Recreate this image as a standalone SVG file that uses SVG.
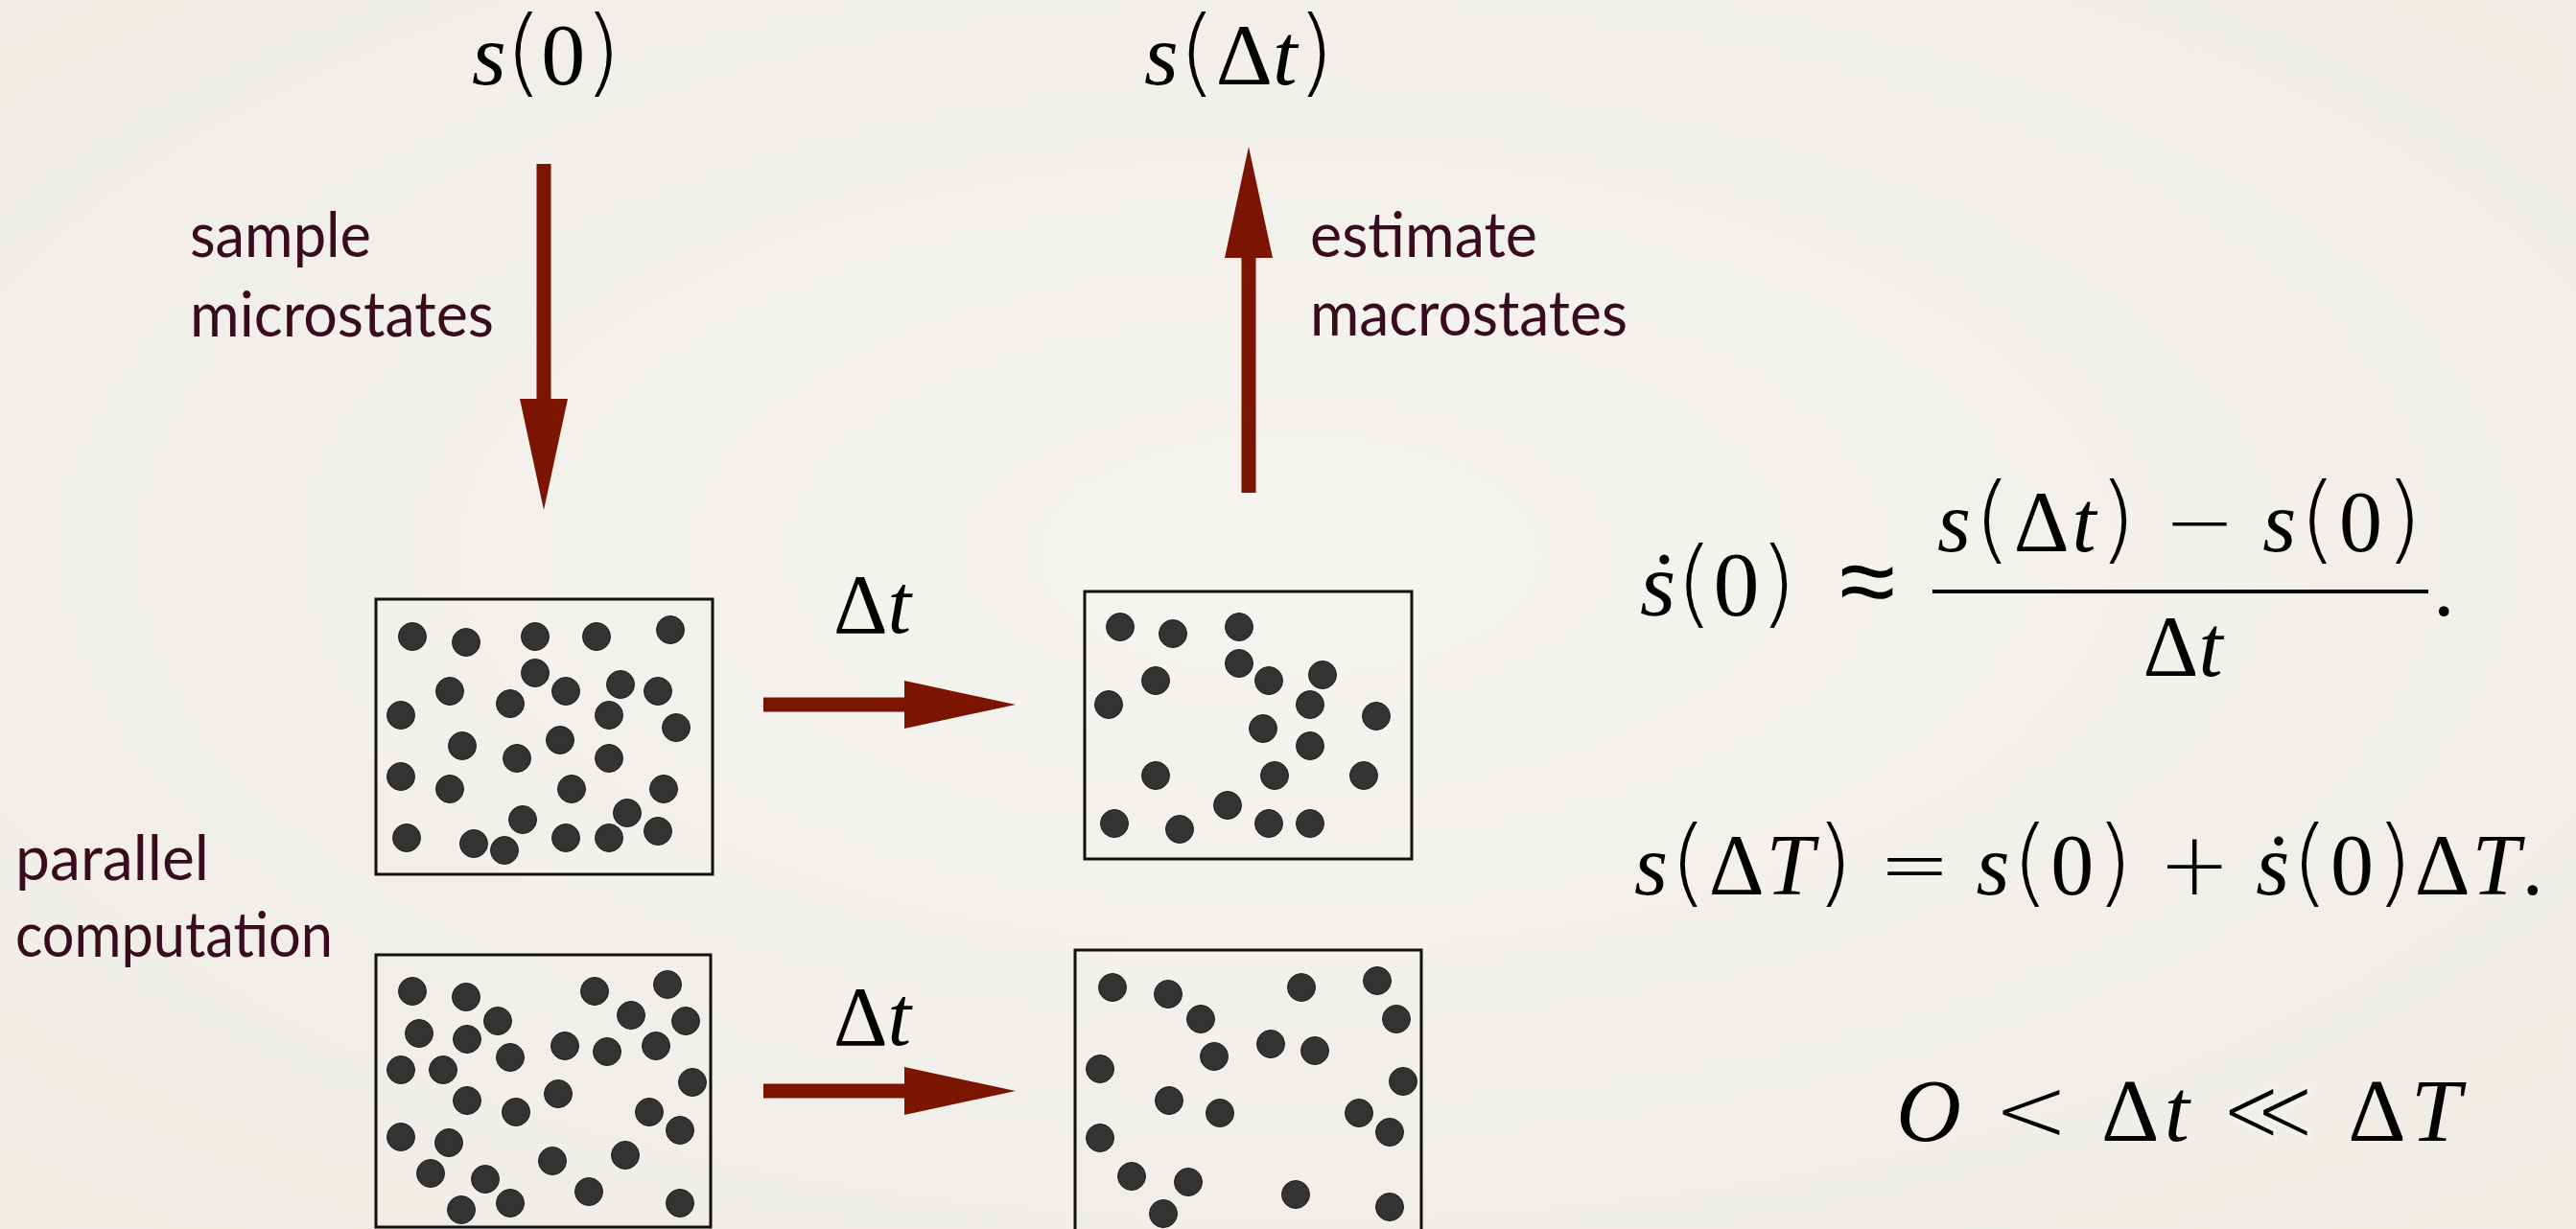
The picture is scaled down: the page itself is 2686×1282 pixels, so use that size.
<svg xmlns="http://www.w3.org/2000/svg" width="2686" height="1282" viewBox="0 0 2686 1282">
<defs>
<radialGradient id="bg" cx="50%" cy="45%" r="75%">
<stop offset="0" stop-color="#f6f4f0"/>
<stop offset="1" stop-color="#efece6"/>
</radialGradient>
<marker id="ah" viewBox="0 0 116 50" markerWidth="116" markerHeight="50" refX="0" refY="25" orient="auto" markerUnits="userSpaceOnUse">
<path d="M0,0 L116,25 L0,50 Z" fill="#7b1400"/>
</marker>
<style>
.lbl{font-family:Lato,"Noto Sans",sans-serif;font-size:66px;fill:#3a0b1f}
.m{font-family:"Liberation Serif","DejaVu Serif",serif;fill:#000}
.i{font-style:italic}
.op{font-family:"DejaVu Sans",sans-serif;font-weight:200}
.thin{stroke:#f3f1ec;stroke-width:4px}
.pr{font-family:"DejaVu Sans",sans-serif;font-weight:200;font-size:100px}
.box{fill:none;stroke:#111;stroke-width:3}
.d{fill:#333;stroke:#1e1e1e;stroke-width:1}
.arr{stroke:#7b1400;stroke-width:15;fill:none;marker-end:url(#ah)}
</style>
</defs>
<rect width="2686" height="1282" fill="url(#bg)"/>

<g id="label-s0"><text class="m" x="492" y="88" font-size="92" textLength="156" lengthAdjust="spacing"><tspan class="i">s</tspan><tspan class="pr">(</tspan>0<tspan class="pr">)</tspan></text></g>
<g id="label-sdt"><text class="m" x="1193" y="88" font-size="92"><tspan class="i">s</tspan><tspan class="pr">(</tspan>Δ<tspan class="i">t</tspan><tspan class="pr">)</tspan></text></g>

<g id="label-sample"><text class="lbl" x="198" y="268" textLength="189" lengthAdjust="spacingAndGlyphs">sample</text><text class="lbl" x="198" y="351" textLength="317" lengthAdjust="spacingAndGlyphs">microstates</text></g>
<g id="label-estimate"><text class="lbl" x="1366" y="268" textLength="237" lengthAdjust="spacingAndGlyphs">estimate</text><text class="lbl" x="1366" y="350" textLength="331" lengthAdjust="spacingAndGlyphs">macrostates</text></g>
<g id="label-parallel"><text class="lbl" x="16" y="918" textLength="202" lengthAdjust="spacingAndGlyphs">parallel</text><text class="lbl" x="16" y="998" textLength="331" lengthAdjust="spacingAndGlyphs">computation</text></g>

<g id="box-a0">
<rect class="box" x="392" y="625" width="351" height="287"/>
<g class="d">
<circle cx="430" cy="664" r="14.5"/><circle cx="486" cy="670" r="14.5"/><circle cx="558" cy="664" r="14.5"/><circle cx="622" cy="664" r="14.5"/><circle cx="699" cy="657" r="14.5"/>
<circle cx="558" cy="702" r="14.5"/><circle cx="469" cy="721" r="14.5"/><circle cx="590" cy="721" r="14.5"/><circle cx="647" cy="714" r="14.5"/><circle cx="686" cy="721" r="14.5"/>
<circle cx="532" cy="734" r="14.5"/><circle cx="418" cy="746" r="14.5"/><circle cx="635" cy="746" r="14.5"/><circle cx="705" cy="759" r="14.5"/><circle cx="482" cy="778" r="14.5"/>
<circle cx="584" cy="772" r="14.5"/><circle cx="539" cy="791" r="14.5"/><circle cx="635" cy="791" r="14.5"/><circle cx="418" cy="810" r="14.5"/><circle cx="469" cy="823" r="14.5"/>
<circle cx="596" cy="823" r="14.5"/><circle cx="692" cy="823" r="14.5"/><circle cx="545" cy="855" r="14.5"/><circle cx="654" cy="848" r="14.5"/><circle cx="686" cy="867" r="14.5"/>
<circle cx="424" cy="874" r="14.5"/><circle cx="494" cy="880" r="14.5"/><circle cx="526" cy="887" r="14.5"/><circle cx="590" cy="874" r="14.5"/><circle cx="635" cy="874" r="14.5"/>
</g>
</g>

<g id="box-a1">
<rect class="box" x="1131" y="617" width="341" height="279"/>
<g class="d">
<circle cx="1168" cy="654" r="14.5"/><circle cx="1223" cy="661" r="14.5"/><circle cx="1292" cy="654" r="14.5"/><circle cx="1292" cy="692" r="14.5"/><circle cx="1205" cy="710" r="14.5"/>
<circle cx="1323" cy="710" r="14.5"/><circle cx="1379" cy="704" r="14.5"/><circle cx="1156" cy="735" r="14.5"/><circle cx="1366" cy="735" r="14.5"/><circle cx="1435" cy="747" r="14.5"/>
<circle cx="1317" cy="760" r="14.5"/><circle cx="1366" cy="778" r="14.5"/><circle cx="1205" cy="809" r="14.5"/><circle cx="1329" cy="809" r="14.5"/><circle cx="1422" cy="809" r="14.5"/>
<circle cx="1280" cy="840" r="14.5"/><circle cx="1162" cy="859" r="14.5"/><circle cx="1230" cy="865" r="14.5"/><circle cx="1323" cy="859" r="14.5"/><circle cx="1366" cy="859" r="14.5"/>
</g>
</g>

<g id="box-b0">
<rect class="box" x="392" y="996" width="349" height="284"/>
<g class="d">
<circle cx="430" cy="1034" r="14.5"/><circle cx="486" cy="1040" r="14.5"/><circle cx="620" cy="1034" r="14.5"/><circle cx="696" cy="1027" r="14.5"/><circle cx="437" cy="1078" r="14.5"/>
<circle cx="519" cy="1065" r="14.5"/><circle cx="487" cy="1084" r="14.5"/><circle cx="658" cy="1059" r="14.5"/><circle cx="715" cy="1065" r="14.5"/><circle cx="589" cy="1091" r="14.5"/>
<circle cx="633" cy="1097" r="14.5"/><circle cx="684" cy="1091" r="14.5"/><circle cx="418" cy="1116" r="14.5"/><circle cx="462" cy="1116" r="14.5"/><circle cx="532" cy="1103" r="14.5"/>
<circle cx="722" cy="1129" r="14.5"/><circle cx="487" cy="1148" r="14.5"/><circle cx="538" cy="1160" r="14.5"/><circle cx="582" cy="1141" r="14.5"/><circle cx="677" cy="1160" r="14.5"/>
<circle cx="418" cy="1186" r="14.5"/><circle cx="468" cy="1192" r="14.5"/><circle cx="709" cy="1179" r="14.5"/><circle cx="449" cy="1224" r="14.5"/><circle cx="506" cy="1230" r="14.5"/>
<circle cx="576" cy="1211" r="14.5"/><circle cx="652" cy="1205" r="14.5"/><circle cx="481" cy="1262" r="14.5"/><circle cx="532" cy="1255" r="14.5"/><circle cx="614" cy="1243" r="14.5"/>
<circle cx="709" cy="1255" r="14.5"/>
</g>
</g>

<g id="box-b1">
<rect class="box" x="1121" y="991" width="361" height="310"/>
<g class="d">
<circle cx="1160" cy="1030" r="14.5"/><circle cx="1218" cy="1037" r="14.5"/><circle cx="1357" cy="1030" r="14.5"/><circle cx="1436" cy="1023" r="14.5"/><circle cx="1252" cy="1063" r="14.5"/>
<circle cx="1456" cy="1063" r="14.5"/><circle cx="1266" cy="1102" r="14.5"/><circle cx="1325" cy="1089" r="14.5"/><circle cx="1371" cy="1096" r="14.5"/><circle cx="1147" cy="1115" r="14.5"/>
<circle cx="1463" cy="1128" r="14.5"/><circle cx="1219" cy="1148" r="14.5"/><circle cx="1272" cy="1161" r="14.5"/><circle cx="1417" cy="1161" r="14.5"/><circle cx="1449" cy="1181" r="14.5"/>
<circle cx="1147" cy="1187" r="14.5"/><circle cx="1180" cy="1227" r="14.5"/><circle cx="1239" cy="1233" r="14.5"/><circle cx="1351" cy="1246" r="14.5"/><circle cx="1449" cy="1259" r="14.5"/>
<circle cx="1213" cy="1266" r="14.5"/>
</g>
</g>

<g id="connectors">
<line class="arr" x1="567" y1="171" x2="567" y2="416"/>
<line class="arr" x1="1302" y1="514" x2="1302" y2="269"/>
<line class="arr" x1="796" y1="735" x2="943" y2="735"/>
<line class="arr" x1="796" y1="1138" x2="943" y2="1138"/>
<text class="m" x="869" y="660" font-size="88">Δ<tspan class="i">t</tspan></text>
<text class="m" x="869" y="1090" font-size="88">Δ<tspan class="i">t</tspan></text>
</g>

<g id="eq1">
<text class="m" x="1710" y="642" font-size="96"><tspan class="i">ṡ</tspan><tspan class="pr" font-size="104">(</tspan>0<tspan class="pr" font-size="104">)</tspan></text>
<text class="m op" x="1918" y="642" font-size="106">≈</text>
<text class="m" x="2273" y="575" font-size="90" text-anchor="middle" textLength="506" lengthAdjust="spacing"><tspan class="i">s</tspan><tspan class="pr">(</tspan>Δ<tspan class="i">t</tspan><tspan class="pr">)</tspan> <tspan class="op">−</tspan> <tspan class="i">s</tspan><tspan class="pr">(</tspan>0<tspan class="pr">)</tspan></text>
<rect x="2015" y="615" width="517" height="4" fill="#000"/>
<text class="m" x="2276" y="705" font-size="90" text-anchor="middle">Δ<tspan class="i">t</tspan></text>
<text class="m" x="2537" y="642" font-size="90">.</text>
</g>

<g id="eq2">
<text class="m" x="1704" y="933" font-size="90" textLength="948" lengthAdjust="spacing"><tspan class="i">s</tspan><tspan class="pr">(</tspan>Δ<tspan class="i">T</tspan><tspan class="pr">)</tspan> <tspan class="op">=</tspan> <tspan class="i">s</tspan><tspan class="pr">(</tspan>0<tspan class="pr">)</tspan> <tspan class="op">+</tspan> <tspan class="i">ṡ</tspan><tspan class="pr">(</tspan>0<tspan class="pr">)</tspan>Δ<tspan class="i">T</tspan>.</text>
</g>

<g id="eq3">
<text class="m" x="1977" y="1190" font-size="94" textLength="589" lengthAdjust="spacing"><tspan class="i">O</tspan> <tspan class="op">&lt;</tspan> Δ<tspan class="i">t</tspan> <tspan class="op thin">≪</tspan> Δ<tspan class="i">T</tspan></text>
</g>
</svg>
